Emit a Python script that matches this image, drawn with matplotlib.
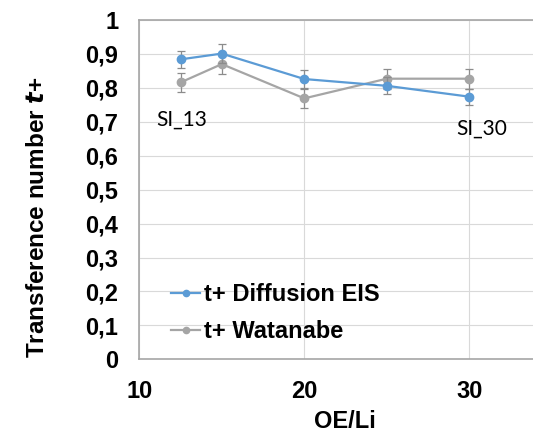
import matplotlib
matplotlib.use("Agg")
import matplotlib.pyplot as plt
from matplotlib.lines import Line2D

# --- data ---
oe_li = [12.5, 15, 20, 25, 30]
t_eis = [0.884, 0.901, 0.826, 0.806, 0.774]
t_eis_err = [0.026, 0.027, 0.026, 0.025, 0.024]
t_wat = [0.816, 0.870, 0.769, 0.827, 0.827]
t_wat_err = [0.028, 0.030, 0.027, 0.030, 0.030]
y_ticks = [0, 0.1, 0.2, 0.3, 0.4, 0.5, 0.6, 0.7, 0.8, 0.9, 1]
x_ticks = [10, 20, 30]
series_names = ["t+ Diffusion EIS", "t+ Watanabe"]

BLUE = "#5B9BD5"
GREY = "#A5A5A5"
ERR = "#8C8C8C"

plt.rcParams['font.family'] = ['Liberation Sans', 'DejaVu Sans']

fig = plt.figure(figsize=(5.33, 4.34), dpi=100)
ax = fig.add_axes([139.3 / 533, 1 - 359.3 / 434, 25 * 16.5 / 533, 339.3 / 434])
ax.set_xlim(10, 35)
ax.set_ylim(0, 1)

ax.errorbar(oe_li, t_eis, yerr=t_eis_err, color=BLUE, lw=1.6, marker='o', ms=6,
            ecolor=ERR, elinewidth=0.9, capsize=3, capthick=0.9, zorder=3)
ax.errorbar(oe_li, t_wat, yerr=t_wat_err, color=GREY, lw=1.6, marker='o', ms=6,
            ecolor=ERR, elinewidth=0.9, capsize=3, capthick=0.9, zorder=2)

ax.set_xticks(x_ticks)
ax.set_yticks(y_ticks)
ax.set_yticklabels([("%g" % v).replace(".", ",") for v in y_ticks])
ax.tick_params(length=0, labelsize=17, pad=15)
for lab in ax.get_xticklabels() + ax.get_yticklabels():
    lab.set_fontweight("bold")

ax.grid(True, color="#D9D9D9", lw=0.8)
ax.set_axisbelow(True)
for side in ["left", "top", "bottom", "right"]:
    ax.spines[side].set_color("#A6A6A6")
    ax.spines[side].set_linewidth(1.2)

ax.text(12.6, 0.705, "SI_13", fontsize=15, family="Lato", ha="center", va="center")
ax.text(30.77, 0.679, "SI_30", fontsize=15, family="Lato", ha="center", va="center")

fig.text(38 / 533, 1 - 217 / 434, r"Transference number $\boldsymbol{t}$+", rotation=90,
         fontsize=17.5, fontweight="bold", ha="center", va="center")
fig.text(345 / 533, 1 - 422 / 434, "OE/Li", fontsize=17, fontweight="bold",
         ha="center", va="center")

handles = [Line2D([], [], color=BLUE, lw=1.6, marker='o', ms=4.5),
           Line2D([], [], color=GREY, lw=1.6, marker='o', ms=4.5)]
ax.legend(handles, series_names, loc="upper left",
          bbox_to_anchor=(159 / 533, 1 - 271 / 434),
          bbox_transform=fig.transFigure, frameon=False, borderpad=0,
          handlelength=1.25, handletextpad=0.15, labelspacing=0.6,
          prop={"size": 17, "weight": "bold"})

fig.savefig("out.png", dpi=100)
